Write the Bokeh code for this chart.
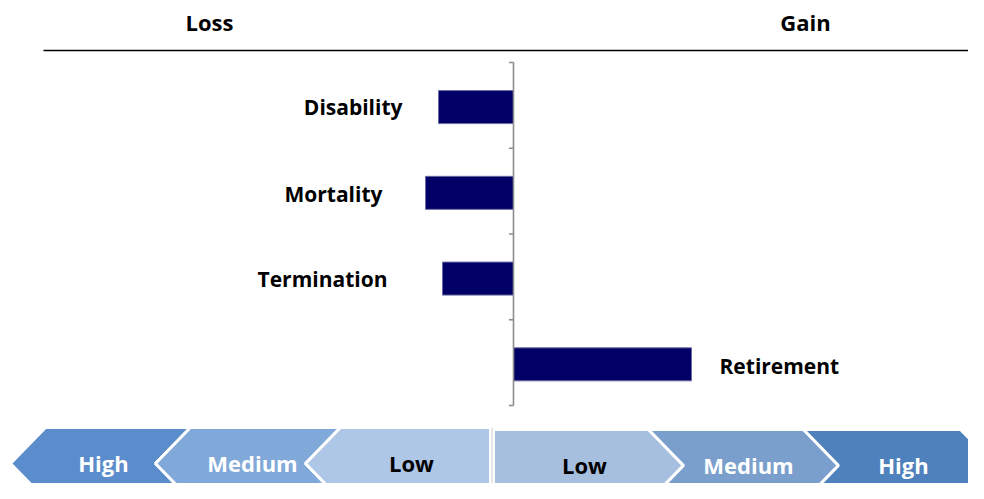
from bokeh.plotting import figure
from bokeh.layouts import column
from bokeh.models import Range1d, ColumnDataSource
from bokeh.core.properties import value
from bokeh.embed import file_html
from bokeh.resources import INLINE

# ---------------- data ----------------
categories = ["Disability", "Mortality", "Termination", "Retirement"]
impact = [-7.5, -8.8, -7.1, 17.8]            # loss (<0) / gain (>0)
label_anchor = [-11.1, -13.1, -12.6, 20.6]    # x of each category label
label_row = [0.52, 1.53, 2.53, 3.545]         # y of each category label
headers = ["Loss", "Gain"]
header_x = [-30.4, 29.2]
left_tiers = ["High", "Medium", "Low"]
right_tiers = ["Low", "Medium", "High"]
left_colors = ["#5B8CCB", "#80A8D8", "#AEC7E6"]
right_colors = ["#A7BFDE", "#7B9FCC", "#4F81BD"]

FONT = value("Open Sans")
W, HT = 968, 483

# ---------------- top chart ----------------
PX = 10.0     # pixels per value unit
ZERO = 513    # pixel of the zero line
BAND = 85.75  # pixels per category band
TOP = 62      # pixel of first band top
H1 = 415

p = figure(width=W, height=H1, output_backend="svg", toolbar_location=None,
           x_range=Range1d(-ZERO / PX, (W - ZERO) / PX),
           y_range=Range1d((H1 - TOP) / BAND, -TOP / BAND),
           min_border=0, outline_line_color=None)
p.axis.visible = False
p.grid.visible = False

n = len(categories)
ys = [i + 0.52 for i in range(n)]
src = ColumnDataSource(dict(
    y=ys,
    left=[min(0, v) for v in impact],
    right=[max(0, v) for v in impact],
))
p.hbar(y="y", left="left", right="right", height=0.385, source=src,
       fill_color="#000066", line_color="#6A6AA6", line_width=1)

# axis line at zero with ticks between categories
p.segment(x0=[0], y0=[0], x1=[0], y1=[n], line_color="#8C8C8C", line_width=1.6)
p.segment(x0=[-0.45] * (n + 1), y0=list(range(n + 1)), x1=[0] * (n + 1),
          y1=list(range(n + 1)), line_color="#8C8C8C", line_width=1.6)

neg = [i for i, v in enumerate(impact) if v < 0]
pos = [i for i, v in enumerate(impact) if v >= 0]
for idx, align in ((neg, "right"), (pos, "left")):
    p.text(x=[label_anchor[i] for i in idx], y=[label_row[i] for i in idx],
           text=[categories[i] for i in idx], text_align=align,
           text_baseline="middle", text_font=FONT, text_font_style="bold",
           text_font_size="21px", text_color="black")

# header and rule
hy = (21.5 - TOP) / BAND
p.text(x=header_x, y=[hy] * 2, text=headers, text_align="center",
       text_baseline="middle", text_font=FONT, text_font_style="bold",
       text_font_size="22px", text_color="black")
ly = (50 - TOP) / BAND
p.segment(x0=[(43 - ZERO) / PX], y0=[ly], x1=[(972 - ZERO) / PX], y1=[ly],
          line_color="black", line_width=1.5)

# ---------------- bottom chevron scale ----------------
H2 = HT - H1
q = figure(width=W, height=H2, output_backend="svg", toolbar_location=None,
           x_range=Range1d(0, W), y_range=Range1d(HT, H1),
           min_border=0, outline_line_color=None)
q.axis.visible = False
q.grid.visible = False

# left group (pointing left)
lt, lm, lb = 427, 463, 499
D = 35
lx_edges = [10, 155, 305, 490]
xs_l, ys_l = [], []
for i in range(3):
    tip = lx_edges[i]
    nxt = lx_edges[i + 1]
    if i < 2:
        xs_l.append([tip, tip + D, nxt + D, nxt, nxt + D, tip + D])
        ys_l.append([lm, lt, lt, lm, lb, lb])
    else:
        xs_l.append([tip, tip + D, nxt, nxt, tip + D])
        ys_l.append([lm, lt, lt, lb, lb])
q.patches(xs_l, ys_l, fill_color=left_colors, line_color="white", line_width=3)

# right group (pointing right)
rt, rm, rb = 429, 465, 501
rx_edges = [493, 648, 803, 960]
xs_r, ys_r = [], []
for i in range(3):
    a = rx_edges[i]
    b = rx_edges[i + 1]
    if i == 0:
        xs_r.append([a, b, b + D, b, a])
        ys_r.append([rt, rt, rm, rb, rb])
    else:
        xs_r.append([a, b, b + D, b, a, a + D])
        ys_r.append([rt, rt, rm, rb, rb, rm])
q.patches(xs_r, ys_r, fill_color=right_colors, line_color="white", line_width=3)

q.segment(x0=[491.5], y0=[427], x1=[491.5], y1=[499], line_color="#D0D0D0", line_width=1)

tier_x_l = [103, 252, 411]
tier_x_r = [584, 748, 903]
q.text(x=tier_x_l, y=[462] * 3, text=left_tiers, text_align="center",
       text_baseline="middle", text_font=FONT, text_font_style="bold",
       text_font_size="22px", text_color=["white", "white", "black"])
q.text(x=tier_x_r, y=[464] * 3, text=right_tiers, text_align="center",
       text_baseline="middle", text_font=FONT, text_font_style="bold",
       text_font_size="22px", text_color=["black", "white", "white"])

layout = column(p, q, spacing=0)
open("out.html", "w").write(file_html(layout, INLINE))
